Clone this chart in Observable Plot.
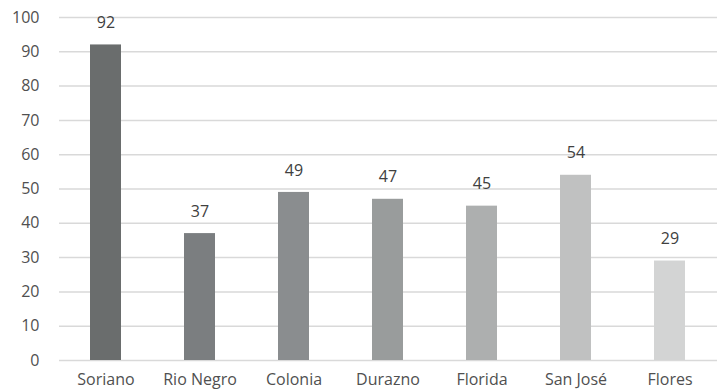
<!DOCTYPE html>
<html><head><meta charset="utf-8">
<script src="https://cdn.jsdelivr.net/npm/d3@7"></script>
<script src="https://cdn.jsdelivr.net/npm/@observablehq/plot@0.6"></script>
<style>
body{margin:0;background:#fff;}
svg{font-family:"Open Sans",sans-serif;}
</style></head><body>
<div id="chart"></div>
<script>
const categories = ["Soriano","Rio Negro","Colonia","Durazno","Florida","San José","Flores"];
const values = [92,37,49,47,45,54,29];
const colors = ["#6a6d6d","#7b7e80","#8a8d8f","#999c9c","#adafaf","#c0c1c1","#d3d4d4"];
const yTicks = [0,10,20,30,40,50,60,70,80,90,100];

const data = categories.map((c,i)=>({cat:c, v:values[i], col:colors[i]}));

const chart = Plot.plot({
  width:717, height:392,
  marginLeft:59, marginRight:0, marginTop:17, marginBottom:32,
  style:{fontSize:"16px", color:"#505050", fontFamily:"Open Sans, sans-serif", background:"#fff"},
  x:{domain:categories, paddingInner:0.67, paddingOuter:0.335, label:null, tickSize:0, tickPadding:13},
  y:{domain:[0,100], ticks:yTicks, label:null, tickSize:0, tickPadding:20},
  marks:[
    Plot.ruleY(yTicks,{stroke:"#d9d9d9", strokeWidth:1.5}),
    Plot.barY(data,{x:"cat", y:"v", fill:"col"}),
    Plot.text(data,{x:"cat", y:"v", text:d=>String(d.v), dy:-22, fill:"#404040", fontSize:16})
  ]
});
document.getElementById("chart").appendChild(chart);
</script></body></html>
